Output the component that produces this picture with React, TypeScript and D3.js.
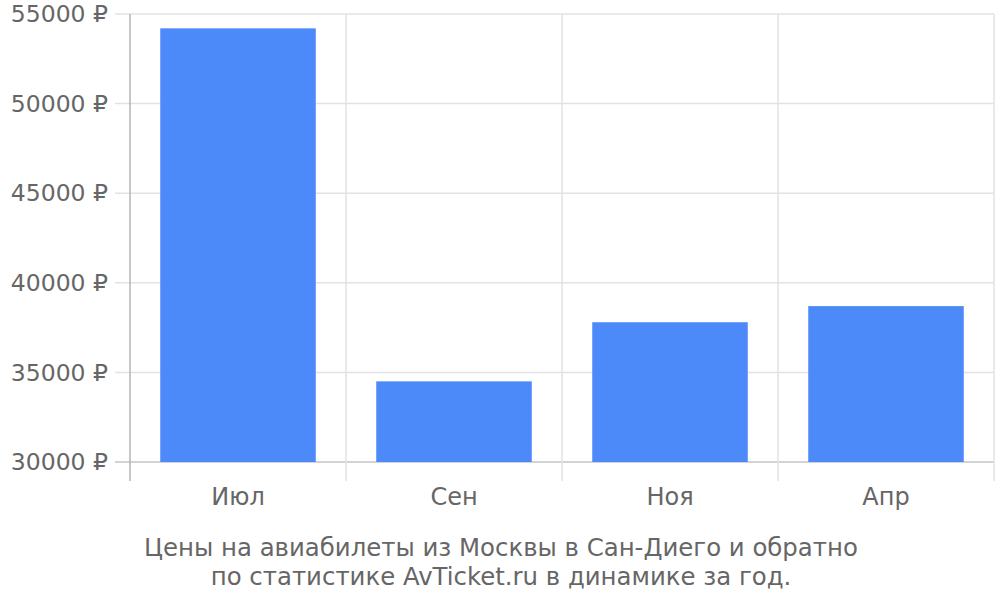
import React from "react";
import * as d3 from "d3";

const categories = ["Июл", "Сен", "Ноя", "Апр"];
const values = [54200, 34500, 37800, 38700];
const yTicks = [30000, 35000, 40000, 45000, 50000, 55000];
const titleLines = [
  "Цены на авиабилеты из Москвы в Сан-Диего и обратно",
  "по статистике AvTicket.ru в динамике за год.",
];

const W = 1000;
const H = 600;
const left = 130;
const right = 994;
const top = 14;
const bottom = 462;

export default function App() {
  const x = d3
    .scaleBand<string>()
    .domain(categories)
    .range([left, right])
    .paddingInner(0.28)
    .paddingOuter(0.14);
  const xb = d3.scaleBand<string>().domain(categories).range([left, right]);
  const y = d3.scaleLinear().domain([30000, 55000]).range([bottom, top]);
  const font = "DejaVu Sans, sans-serif";
  const textColor = "#666666";
  const boundaries = [...categories.map((c) => xb(c) as number), right];

  return (
    <svg width={W} height={H} style={{ position: "absolute", left: 0, top: 0 }}>
      <rect width={W} height={H} fill="#fff" />
      {yTicks.map((t) => (
        <line
          key={"h" + t}
          x1={left - 15}
          x2={right}
          y1={y(t)}
          y2={y(t)}
          stroke={t === 30000 ? "#c4c4c4" : "#e2e2e2"}
          strokeWidth={1.5}
        />
      ))}
      {boundaries.map((b, i) => (
        <line
          key={"v" + i}
          x1={b}
          x2={b}
          y1={top}
          y2={bottom + 19}
          stroke={i === 0 ? "#b4b4b4" : "#e2e2e2"}
          strokeWidth={1.5}
        />
      ))}
      {categories.map((c, i) => (
        <rect
          key={c}
          x={x(c)}
          width={x.bandwidth()}
          y={y(values[i])}
          height={y(30000) - y(values[i])}
          fill="#4d8af9"
        />
      ))}
      {yTicks.map((t) => (
        <text
          key={"yl" + t}
          x={108}
          y={y(t)}
          dy="0.35em"
          textAnchor="end"
          fontFamily={font}
          fontSize={23.5}
          fill={textColor}
        >
          {t + " ₽"}
        </text>
      ))}
      {categories.map((c) => (
        <text
          key={"xl" + c}
          x={(xb(c) as number) + xb.bandwidth() / 2}
          y={497}
          dy="0.35em"
          textAnchor="middle"
          fontFamily={font}
          fontSize={24}
          fill={textColor}
        >
          {c}
        </text>
      ))}
      {titleLines.map((l, i) => (
        <text
          key={"t" + i}
          x={501}
          y={547 + i * 29}
          dy="0.35em"
          textAnchor="middle"
          fontFamily={font}
          fontSize={24.4}
          fill={textColor}
        >
          {l}
        </text>
      ))}
    </svg>
  );
}
